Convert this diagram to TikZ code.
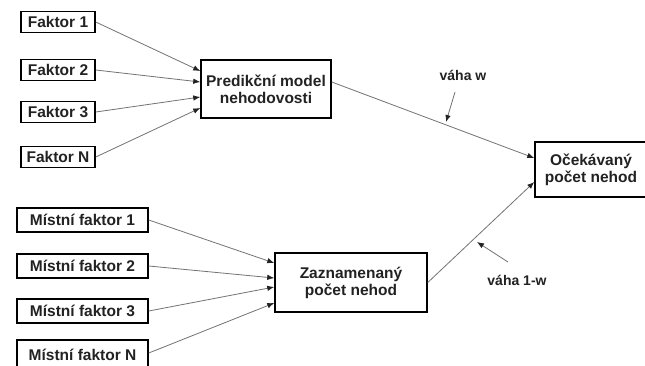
\documentclass[tikz,border=0pt]{standalone}
\usepackage{fontspec}
\setmainfont{Liberation Sans}
\usetikzlibrary{arrows.meta}
\definecolor{linegray}{HTML}{737373}
\definecolor{inkc}{HTML}{222222}
\tikzset{
  box/.style={draw=black, line width=1.5pt, fill=white, inner sep=0pt,
    font=\fontsize{15.5}{17}\selectfont\bfseries, text=inkc, align=center},
  fbox/.style={box, minimum width=74pt, minimum height=21pt},
  mbox/.style={box, minimum width=131pt, minimum height=24pt},
  conn/.style={draw=linegray, line width=0.8pt, -{Latex[length=7pt,width=5.5pt,color=inkc]}},
  lbl/.style={font=\fontsize{14}{16}\selectfont\bfseries, text=inkc, inner sep=0pt}
}
\begin{document}
\begin{tikzpicture}[x=1pt,y=-1pt]
\useasboundingbox[fill=white] (0,0) rectangle (645,365);
\clip (0,0) rectangle (645,365);
% left factor boxes
\node[fbox] (f1) at (58,22) {Faktor 1};
\node[fbox] (f2) at (58,70) {Faktor 2};
\node[fbox] (f3) at (58,112) {Faktor 3};
\node[fbox] (fN) at (58,157) {Faktor N};
\node[mbox] (m1) at (82.5,220) {Místní faktor 1};
\node[mbox] (m2) at (82.5,266) {Místní faktor 2};
\node[mbox] (m3) at (82.5,311) {Místní faktor 3};
\node[mbox, minimum height=30pt] (mN) at (82.5,355) {Místní faktor N};
% main boxes
\node[box, minimum width=130pt, minimum height=58pt] (pred) at (266,89) {Predikční model\\nehodovosti};
\node[box, minimum width=152pt, minimum height=59pt] (zaz) at (351,282.5) {Zaznamenaný\\počet nehod};
\node[box, minimum width=112pt, minimum height=55pt] (oce) at (591,169.5) {Očekávaný\\počet nehod};
% connectors
\draw[conn] (f1.east) -- ([yshift=18pt]pred.west);
\draw[conn] (f2.east) -- ([yshift=7pt]pred.west);
\draw[conn] (f3.east) -- ([yshift=-8pt]pred.west);
\draw[conn] (fN.east) -- ([yshift=-19pt]pred.west);
\draw[conn] (m1.east) -- ([yshift=19.5pt]zaz.west);
\draw[conn] (m2.east) -- ([yshift=4.5pt]zaz.west);
\draw[conn] (m3.east) -- ([yshift=-4.5pt]zaz.west);
\draw[conn] ([yshift=2pt]mN.east) -- ([yshift=-20.5pt]zaz.west);
\draw[conn] ([yshift=7pt]pred.east) -- ([yshift=11.5pt]oce.west);
\draw[conn] (zaz.east) -- ([yshift=-12.5pt]oce.west);
% weight labels
\node[lbl] (vw) at (463,75) {váha w};
\node[lbl] (v1w) at (517,280) {váha 1-w};
\coordinate (wa) at (455,92);
\coordinate (wt) at (446,122);
\coordinate (wb) at (508,262);
\coordinate (wbt) at (477,242);
\draw[conn] (wa) -- (wt);
\draw[conn] (wb) -- (wbt);
\end{tikzpicture}
\end{document}
